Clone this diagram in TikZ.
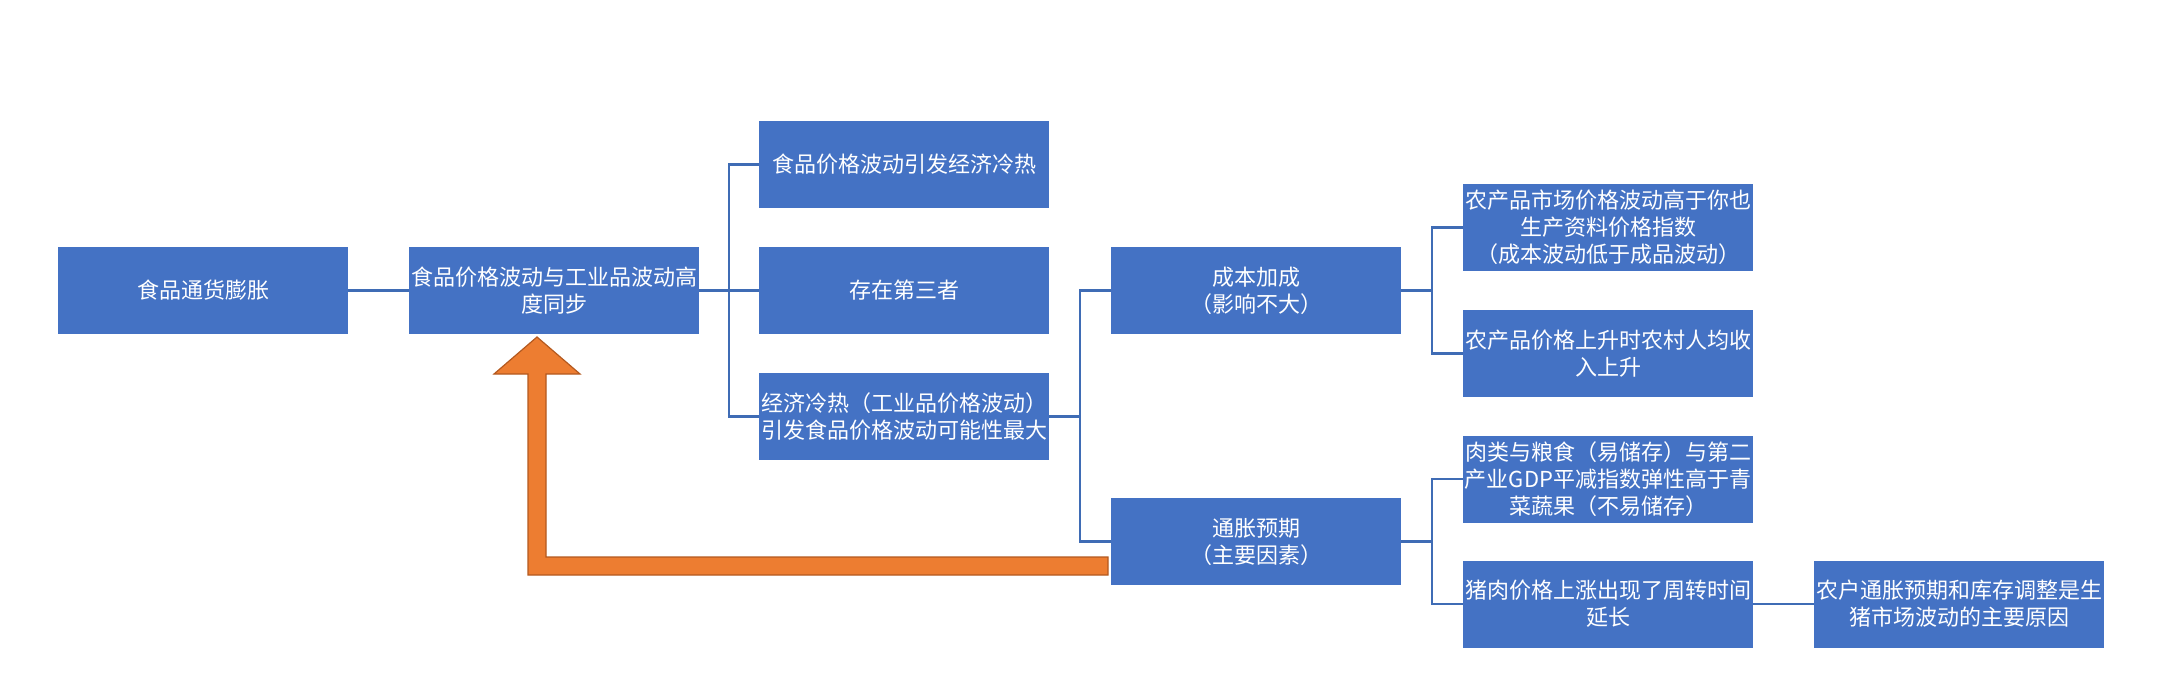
\documentclass[tikz,border=0pt]{standalone}
\usepackage{fontspec}
\setmainfont{Noto Sans CJK SC}
\usepackage{tikz}
\definecolor{boxblue}{HTML}{4472C4}
\definecolor{lineblue}{HTML}{3F6CB5}
\definecolor{fborange}{HTML}{ED7D31}
\definecolor{fbedge}{HTML}{B4591F}
\usetikzlibrary{positioning, calc}

\begin{document}
\begin{tikzpicture}[
    node distance=30.5pt,
    card/.style={rectangle, fill=boxblue, text=white, text width=145pt, inner xsep=0pt, inner ysep=0pt, outer sep=0pt, minimum height=43.5pt, align=center, font=\fontsize{11pt}{13.5pt}\selectfont},
    link/.style={draw=lineblue, line width=1.2pt},
    feedback/.style={fill=fborange, draw=fbedge, line width=0.6pt, line join=miter}
]
\useasboundingbox (0,0) rectangle (1089pt,-337pt);

\node[card] (infl) at (101.5pt,-145.25pt) {食品通货膨胀};
\node[card, right=of infl] (sync) {食品价格波动与工业品波动高\\度同步};
\node[card, right=30pt of sync] (third) {存在第三者};
\node[card, above=19.5pt of third] (heat) {食品价格波动引发经济冷热};
\node[card, below=19.5pt of third] (likely) {经济冷热（工业品价格波动）\\引发食品价格波动可能性最大};
\node[card, right=31pt of third] (cost) {成本加成\\（影响不大）};
\node[card, below=82pt of cost] (expect) {通胀预期\\（主要因素）};
\node[card, right=31pt of cost, yshift=31.5pt] (farm) {农产品市场价格波动高于你也\\生产资料价格指数\\（成本波动低于成品波动）};
\node[card, below=19.5pt of farm] (income) {农产品价格上升时农村人均收\\入上升};
\node[card, right=31pt of expect, yshift=31.25pt] (store) {肉类与粮食（易储存）与第二\\产业GDP平减指数弹性高于青\\菜蔬果（不易储存）};
\node[card, below=19pt of store] (pork) {猪肉价格上涨出现了周转时间\\延长};
\node[card, right=of pork] (farmer) {农户通胀预期和库存调整是生\\猪市场波动的主要原因};

\draw[link] (infl) -- (sync);
\foreach \kid in {heat, third, likely}
    \draw[link] (sync.east) -- ++(15pt,0) |- (\kid.west);
\foreach \kid in {cost, expect}
    \draw[link] (likely.east) -- ++(15.5pt,0) |- (\kid.west);
\foreach \kid in {farm, income}
    \draw[link] (cost.east) -- ++(15.5pt,0) |- (\kid.west);
\foreach \kid in {store, pork}
    \draw[link] (expect.east) -- ++(15.5pt,0) |- (\kid.west);
\draw[link] (pork) -- (farmer);

% feedback arrow
\coordinate (tip) at ([xshift=-8.5pt,yshift=-1.5pt]sync.south);
\coordinate (tail) at ([xshift=-1.5pt,yshift=-12.25pt]expect.west);
\draw[feedback] (tip) -- ++(21.5pt,-18.5pt) -- ++(-17pt,0) |- ([yshift=4.5pt]tail)
    -- ([yshift=-4.5pt]tail) -| ([xshift=-4.5pt,yshift=-18.5pt]tip) -- ++(-17pt,0) -- cycle;

\end{tikzpicture}
\end{document}
